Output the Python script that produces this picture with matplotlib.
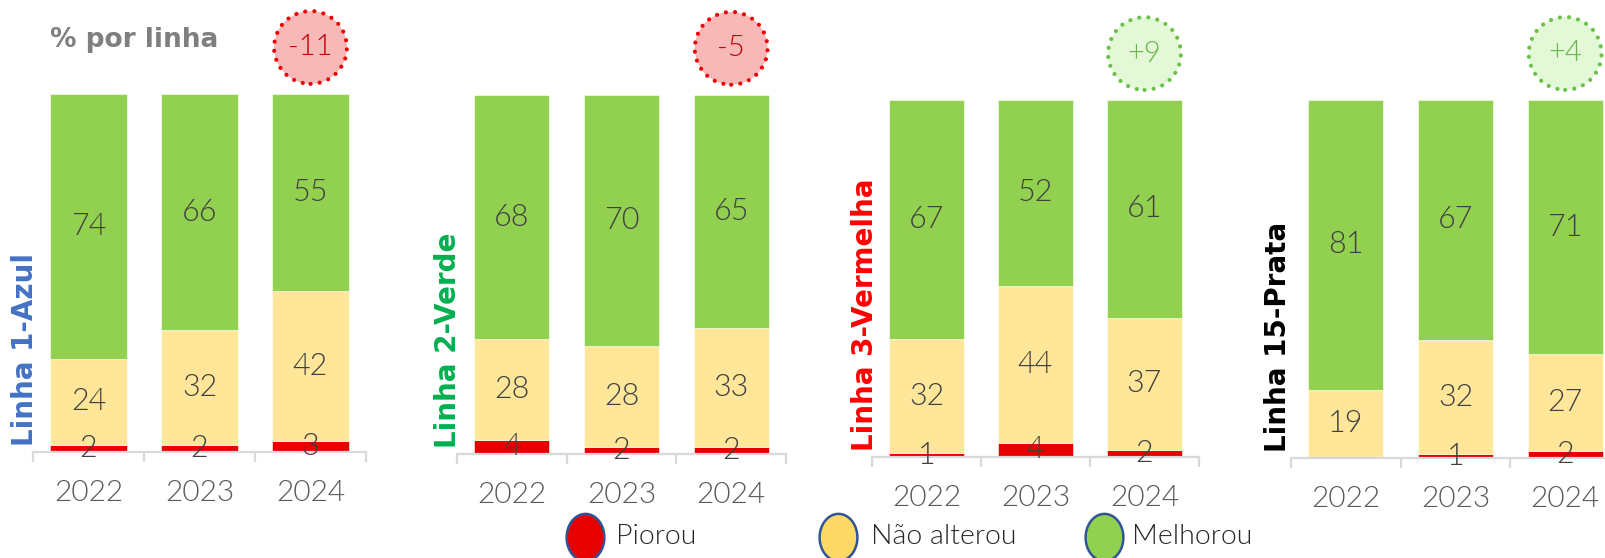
import matplotlib
matplotlib.use("Agg")
import matplotlib.pyplot as plt
import numpy as np
from matplotlib.lines import Line2D

# ---------------- data ----------------
years = ["2022", "2023", "2024"]
lines_names = ["Linha 1-Azul", "Linha 2-Verde", "Linha 3-Vermelha", "Linha 15-Prata"]
line_colors = ["#4472C4", "#00B050", "#FF0000", "#000000"]

piorou = [[2, 2, 3], [4, 2, 2], [1, 4, 2], [0, 1, 2]]
nao_alterou = [[24, 32, 42], [28, 28, 33], [32, 44, 37], [19, 32, 27]]
melhorou = [[74, 66, 55], [68, 70, 65], [67, 52, 61], [81, 67, 71]]

series_names = ["Piorou", "Não alterou", "Melhorou"]
series_colors = ["#E60000", "#FFE699", "#92D050"]

# ---------------- layout (pixels) ----------------
W, H = 1606, 558
fig = plt.figure(figsize=(W / 100, H / 100), dpi=100)
plt.rcParams["font.family"] = ["Lato", "DejaVu Sans"]

# left, right, top, baseline of each panel (pixels from top-left)
panels_px = [(33, 366, 94, 452), (457, 786, 95, 454), (872, 1199, 100, 457), (1291, 1620, 100, 458)]
label_dx = [-8, -9, -7, -13]

AX_GRAY = "#D9D9D9"
TXT = "#404040"
LW = 300

for i, (l, r, t, b) in enumerate(panels_px):
    ax = fig.add_axes([l / W, 1 - b / H, (r - l) / W, (b - t) / H])
    x = np.arange(len(years))
    bottom = np.zeros(len(years))
    for vals, col in zip([piorou[i], nao_alterou[i], melhorou[i]], series_colors):
        vals = np.array(vals, dtype=float)
        ax.bar(x, vals, width=0.685, bottom=bottom, color=col, edgecolor="white", linewidth=0.4, zorder=2)
        for xi, v, bo in zip(x, vals, bottom):
            if v > 0:
                ax.text(xi, bo + v / 2, f"{int(v)}", ha="center", va="center",
                        fontsize=22, color=TXT, fontweight=LW, zorder=4)
        bottom = bottom + vals

    ax.set_xlim(-0.5, 2.5)
    ax.set_ylim(0, 100)
    for s in ["top", "right", "left"]:
        ax.spines[s].set_visible(False)
    ax.spines["bottom"].set_color(AX_GRAY)
    ax.spines["bottom"].set_linewidth(1.6)
    ax.spines["bottom"].set_zorder(3)
    ax.set_yticks([])
    ax.set_xticks(x)
    ax.set_xticklabels(years, fontsize=21.5, color="#595959", fontweight=LW)
    ax.tick_params(axis="x", which="major", length=0, pad=20)
    ax.set_xticks([-0.5, 0.5, 1.5, 2.5], minor=True)
    ax.tick_params(axis="x", which="minor", length=7, width=1.6, color=AX_GRAY)
    ax.patch.set_alpha(0)

    # vertical line name
    ax.annotate(lines_names[i], xy=(0, 0), xycoords="axes fraction",
                xytext=(label_dx[i] * 0.72, 6 * 0.72), textcoords="offset points",
                rotation=90, ha="center", va="bottom", fontsize=20, fontweight="bold",
                color=line_colors[i], family="DejaVu Sans")

    # delta badge (change of "Melhorou" 2024 vs 2023)
    delta = melhorou[i][2] - melhorou[i][1]
    if delta < 0:
        fc, ec, tc = "#F8B8B8", "#EE0000", "#C00000"
    else:
        fc, ec, tc = "#E2F8D6", "#6CC04A", "#6AB04C"
    sc = ax.scatter([2], [113], s=2750, facecolor=fc, edgecolor=ec, linewidths=3.0,
                    linestyle=(0, (0.01, 2.2)), clip_on=False, zorder=5)
    sc.set_capstyle("round")
    ax.text(2, 113, f"{delta:+d}", ha="center", va="center", fontsize=21,
            color=tc, fontweight=LW, zorder=6, clip_on=False)

# title
fig.text(50 / W, 1 - 40 / H, "% por linha", ha="left", va="center", fontsize=19,
         fontweight="bold", color="#7F7F7F", family="DejaVu Sans")

# legend (manual)
t = np.linspace(0, 2 * np.pi, 60)
ell = list(zip(0.8 * np.cos(t), np.sin(t)))
leg_marker_x = [585, 838, 1104]
leg_text_x = [616, 871, 1132]
leg_y = 537
for name, col, mx, tx in zip(series_names, series_colors, leg_marker_x, leg_text_x):
    fc = col if col != "#FFE699" else "#FFD966"
    fig.add_artist(Line2D([mx / W], [1 - leg_y / H], transform=fig.transFigure,
                          marker=ell, markersize=34, markerfacecolor=fc,
                          markeredgecolor="#2F5597", markeredgewidth=1.8, linestyle="none"))
    fig.text(tx / W, 1 - leg_y / H, name, ha="left", va="center", fontsize=20.5,
             color="#262626", fontweight=LW)

fig.savefig("out.png", dpi=100)
